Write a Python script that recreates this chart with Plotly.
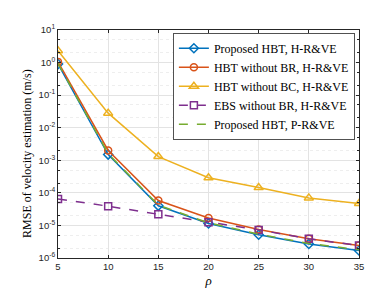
import plotly.graph_objects as go

rho = [5, 10, 15, 20, 25, 30, 35]
prop_h = [0.9, 1.5e-3, 4.0e-5, 1.15e-5, 5.2e-6, 2.7e-6, 1.7e-6]
nobr_h = [1.05, 2.0e-3, 5.8e-5, 1.7e-5, 7.5e-6, 3.9e-6, 2.4e-6]
nobc_h = [2.3, 2.8e-2, 1.3e-3, 2.9e-4, 1.45e-4, 7.0e-5, 4.7e-5]
ebs_h = [6.5e-5, 3.9e-5, 2.2e-5, 1.25e-5, 7.3e-6, 3.9e-6, 2.4e-6]
prop_p = [0.95, 1.6e-3, 4.2e-5, 1.2e-5, 5.4e-6, 2.8e-6, 1.8e-6]

names = ["Proposed HBT, H-R&VE", "HBT without BR, H-R&VE", "HBT without BC, H-R&VE",
         "EBS without BR, H-R&VE", "Proposed HBT, P-R&VE"]
ytickvals = [1e-6, 1e-5, 1e-4, 1e-3, 1e-2, 1e-1, 1e0, 1e1]
yticktext = ["10<sup>-6</sup>", "10<sup>-5</sup>", "10<sup>-4</sup>", "10<sup>-3</sup>",
             "10<sup>-2</sup>", "10<sup>-1</sup>", "10<sup>0</sup>", "10<sup>1</sup>"]
serif = "Liberation Serif, Times New Roman, serif"

fig = go.Figure()
fig.add_trace(go.Scatter(x=rho, y=prop_h, name=names[0], mode="lines+markers",
                         line=dict(color="#0072BD", width=1.5),
                         marker=dict(symbol="diamond-open", size=7, color="#0072BD", line=dict(width=1.5))))
fig.add_trace(go.Scatter(x=rho, y=nobr_h, name=names[1], mode="lines+markers",
                         line=dict(color="#D95319", width=1.5),
                         marker=dict(symbol="circle-open", size=7, color="#D95319", line=dict(width=1.5))))
fig.add_trace(go.Scatter(x=rho, y=nobc_h, name=names[2], mode="lines+markers",
                         line=dict(color="#EDB120", width=1.5),
                         marker=dict(symbol="triangle-up-open", size=8, color="#EDB120", line=dict(width=1.5))))
fig.add_trace(go.Scatter(x=rho, y=ebs_h, name=names[3], mode="lines+markers",
                         line=dict(color="#7E2F8E", width=1.5, dash="dash"),
                         marker=dict(symbol="square-open", size=7, color="#7E2F8E", line=dict(width=1.5))))
fig.add_trace(go.Scatter(x=rho, y=prop_p, name=names[4], mode="lines",
                         line=dict(color="#77AC30", width=1.5, dash="dash")))

fig.update_layout(
    width=388, height=290,
    margin=dict(l=50, r=37, t=22, b=32),
    paper_bgcolor="white", plot_bgcolor="white",
    font=dict(family="Liberation Sans", size=9.5, color="#262626"),
    showlegend=True,
    legend=dict(x=0.987, y=0.987, xanchor="right", yanchor="top",
                font=dict(family=serif, size=12, color="black"),
                bgcolor="white", bordercolor="#262626", borderwidth=0.8,
                tracegroupgap=0, itemwidth=30),
    xaxis=dict(range=[5, 35], tickvals=[5, 10, 15, 20, 25, 30, 35],
               showgrid=True, gridcolor="#e3e3e3", gridwidth=1,
               showline=True, linecolor="#262626", linewidth=1, mirror="ticks",
               ticks="inside", ticklen=3, tickcolor="#262626", zeroline=False,
               title=dict(text="<i>ρ</i>", font=dict(family=serif, size=13, color="black"), standoff=4)),
    yaxis=dict(type="log", range=[-6, 1], tickvals=ytickvals, ticktext=yticktext,
               showgrid=True, gridcolor="#e3e3e3", gridwidth=1,
               showline=True, linecolor="#262626", linewidth=1, mirror="ticks",
               ticks="inside", ticklen=3, tickcolor="#262626", zeroline=False,
               minor=dict(showgrid=True, gridcolor="#eeeeee", griddash="dot", ticks="inside", ticklen=2, tickcolor="#262626")),
    annotations=[dict(text="RMSE of velocity estimation (m/s)", xref="paper", yref="paper",
                      x=-0.105, y=0.458, xanchor="center", yanchor="middle", textangle=-90,
                      showarrow=False, font=dict(family=serif, size=12, color="black"))],
)

fig.write_html("out.html")
